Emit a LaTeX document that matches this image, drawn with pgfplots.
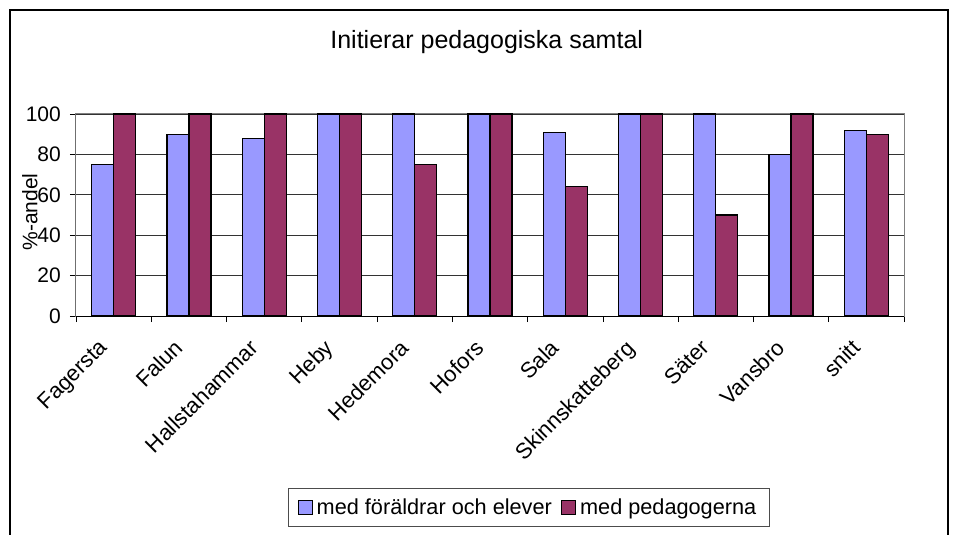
\documentclass[border=0pt]{standalone}
\usepackage{pgfplots}
\pgfplotsset{compat=1.18}
\usepackage{fontspec}
\setmainfont{Liberation Sans}
\definecolor{cblue}{HTML}{9999FF}
\definecolor{cred}{HTML}{993366}
\pgfplotstableread{
x blue red
0 75 100
1 90 100
2 88 100
3 100 100
4 100 75
5 100 100
6 91 64
7 100 100
8 100 50
9 80 100
10 92 90
}\datatable
\begin{document}
\begin{tikzpicture}[x=1pt,y=1pt]
\useasboundingbox (-76,-219) rectangle (886,316);
\draw[line width=1.3pt] (-66,-240) -- (-66,306) -- (872,306) -- (872,-240);
\begin{axis}[
  at={(0,0)}, anchor=south west,
  scale only axis, width=828pt, height=202pt,
  xmin=-0.5, xmax=10.5, ymin=0, ymax=100,
  ybar=0pt, bar width=22pt,
  axis line style={black!50, line width=1pt},
  tick pos=left, tick align=outside,
  major tick length=6pt,
  tick style={black, line width=0.8pt},
  ytick={0,20,...,100},
  ymajorgrids, grid style={black!80, line width=0.8pt},
  /pgf/number format/assume math mode=true,
  yticklabel style={font=\fontsize{21}{21}\selectfont, inner sep=0pt, xshift=-9pt},
  xtick={-0.5,0.5,...,10.5},
  xticklabels={},
  extra x ticks={0,1,...,10},
  extra x tick labels={Fagersta,Falun,Hallstahammar,Heby,Hedemora,Hofors,Sala,Skinnskatteberg,Säter,Vansbro,snitt},
  extra x tick style={major tick length=0pt},
  xticklabel style={font=\fontsize{22}{22}\selectfont, inner sep=0pt, xshift=-16pt, yshift=-22pt, rotate=45, anchor=north east},
  title={Initierar pedagogiska samtal},
  title style={at={(axis description cs:0.496,1.326)}, anchor=center, font=\fontsize{25}{25}\selectfont},
  ylabel={\%-andel},
  every axis y label/.style={at={(axis description cs:-0.0556,0.515)}, rotate=90, anchor=center, font=\fontsize{21}{21}\selectfont},
  legend columns=2,
  legend style={at={(axis description cs:0.547,-0.948)}, anchor=center, draw=black!70, line width=0.8pt,
    font=\fontsize{21.7}{21.7}\selectfont, inner xsep=9pt, inner ysep=8pt,
    nodes={inner xsep=4pt},
    /tikz/every even column/.append style={column sep=5pt}},
  legend image code/.code={\draw[#1, draw=black, line width=1.2pt] (0pt,-7pt) rectangle (14pt,7pt);},
]
\addplot[fill=cblue, draw=black, line width=1.3pt] table[x=x, y=blue] {\datatable};
\addlegendentry{med föräldrar och elever}
\addplot[fill=cred, draw=black, line width=1.3pt] table[x=x, y=red] {\datatable};
\addlegendentry{med pedagogerna}
\draw[black, line width=1pt] (rel axis cs:0,1) -- (rel axis cs:0,0) -- (rel axis cs:1,0);
\end{axis}
\end{tikzpicture}
\end{document}
